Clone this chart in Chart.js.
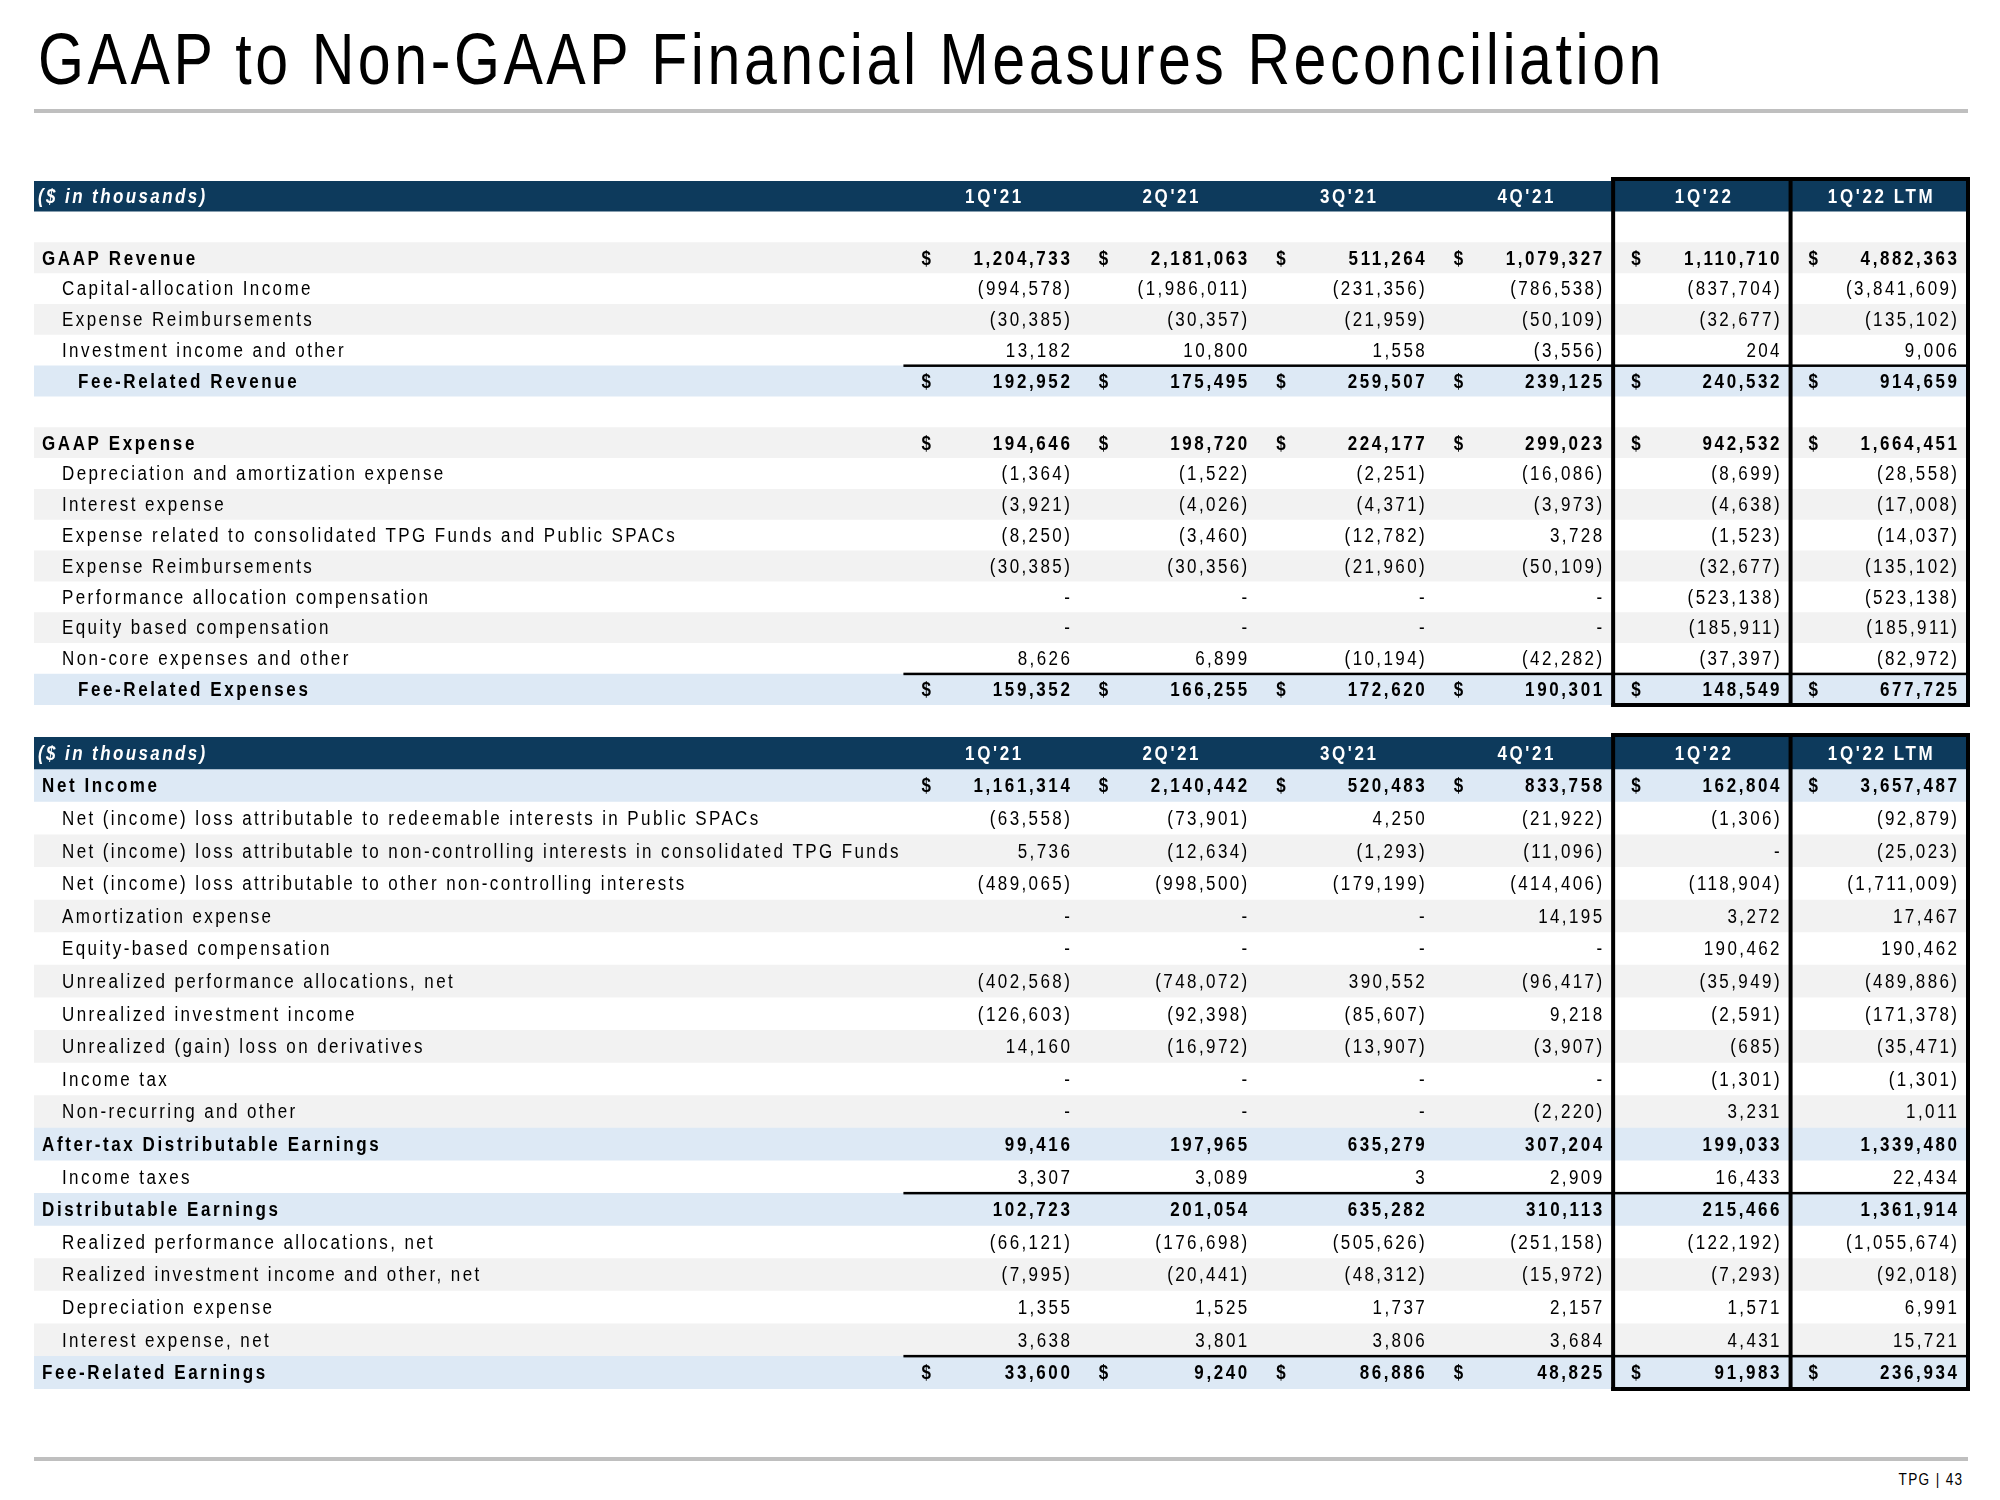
<!DOCTYPE html>
<html>
<head>
<meta charset="utf-8">
<script src="https://cdn.jsdelivr.net/npm/chart.js@4.4.1/dist/chart.umd.min.js"></script>
<style>
  body { margin: 0; background: #fff; width: 2000px; height: 1500px; position: relative; overflow: hidden; }
  #title { position: absolute; left: 38px; top: 23px; font-family: 'Liberation Sans', sans-serif; font-size: 72px; line-height: 72px; white-space: nowrap; color: #000; }
  #titleText { display: inline-block; transform: scaleX(0.82); transform-origin: 0 0; }
  .rule { position: absolute; left: 34px; width: 1934px; height: 4px; background: #bfbfbf; }
  #footer { position: absolute; right: 36px; top: 1470px; font-family: 'Liberation Sans', sans-serif; font-size: 16px; line-height: 20px; color: #000; }
  #footerText { display: inline-block; letter-spacing: 1.6px; transform: scaleX(0.85); transform-origin: 100% 0; }
  canvas { position: absolute; left: 0; }
</style>
</head>
<body>
<div id="title"><span id="titleText">GAAP to Non-GAAP Financial Measures Reconciliation</span></div>
<div class="rule" style="top:109px"></div>
<canvas id="feeTable" width="2000" height="545" style="top:170px"></canvas>
<canvas id="earnTable" width="2000" height="675" style="top:725px"></canvas>
<div class="rule" style="top:1457px"></div>
<div id="footer"><span id="footerText">TPG | 43</span></div>
<script>
// column headers
const periods = ["1Q'21", "2Q'21", "3Q'21", "4Q'21", "1Q'22", "1Q'22 LTM"];

// top table: revenue / expense ($ in thousands)
const gaapRevenue = [1204733, 2181063, 511264, 1079327, 1110710, 4882363];
const capitalAllocationIncome = [-994578, -1986011, -231356, -786538, -837704, -3841609];
const revExpenseReimbursements = [-30385, -30357, -21959, -50109, -32677, -135102];
const investmentIncomeOther = [13182, 10800, 1558, -3556, 204, 9006];
const feeRelatedRevenue = [192952, 175495, 259507, 239125, 240532, 914659];

const gaapExpense = [194646, 198720, 224177, 299023, 942532, 1664451];
const depreciationAmortization = [-1364, -1522, -2251, -16086, -8699, -28558];
const interestExpense = [-3921, -4026, -4371, -3973, -4638, -17008];
const consolidatedFundsExpense = [-8250, -3460, -12782, 3728, -1523, -14037];
const expExpenseReimbursements = [-30385, -30356, -21960, -50109, -32677, -135102];
const performanceAllocationComp = [0, 0, 0, 0, -523138, -523138];
const equityBasedComp = [0, 0, 0, 0, -185911, -185911];
const nonCoreExpenses = [8626, 6899, -10194, -42282, -37397, -82972];
const feeRelatedExpenses = [159352, 166255, 172620, 190301, 148549, 677725];

// bottom table: earnings ($ in thousands)
const netIncome = [1161314, 2140442, 520483, 833758, 162804, 3657487];
const nciPublicSpacs = [-63558, -73901, 4250, -21922, -1306, -92879];
const nciTpgFunds = [5736, -12634, -1293, -11096, 0, -25023];
const nciOther = [-489065, -998500, -179199, -414406, -118904, -1711009];
const amortizationExpense = [0, 0, 0, 14195, 3272, 17467];
const equityBasedCompensation = [0, 0, 0, 0, 190462, 190462];
const unrealizedPerformance = [-402568, -748072, 390552, -96417, -35949, -489886];
const unrealizedInvestment = [-126603, -92398, -85607, 9218, -2591, -171378];
const unrealizedDerivatives = [14160, -16972, -13907, -3907, -685, -35471];
const incomeTax = [0, 0, 0, 0, -1301, -1301];
const nonRecurringOther = [0, 0, 0, -2220, 3231, 1011];
const afterTaxDE = [99416, 197965, 635279, 307204, 199033, 1339480];
const incomeTaxes = [3307, 3089, 3, 2909, 16433, 22434];
const distributableEarnings = [102723, 201054, 635282, 310113, 215466, 1361914];
const realizedPerformance = [-66121, -176698, -505626, -251158, -122192, -1055674];
const realizedInvestment = [-7995, -20441, -48312, -15972, -7293, -92018];
const depreciationExpense = [1355, 1525, 1737, 2157, 1571, 6991];
const interestExpenseNet = [3638, 3801, 3806, 3684, 4431, 15721];
const feeRelatedEarnings = [33600, 9240, 86886, 48825, 91983, 236934];

const FONT = "'Liberation Sans', Arial, sans-serif";
const SQUEEZE = 0.85;   // fake Arial Narrow
const NAVY = '#0d3a5c', GRAY = '#f2f2f2', BLUE = '#dde9f5';
const X_MIN = -4.9, X_MAX = 6;

// kind: head | blank | main | item | sub
function row(kind, label, values, opts) {
  return Object.assign({ kind: kind, label: label, values: values }, opts || {});
}

const feeRows = [
  row('head', '($ in thousands)', null),
  row('blank', '', null),
  row('main', 'GAAP Revenue', gaapRevenue, { fill: GRAY, dollar: true }),
  row('item', 'Capital-allocation Income', capitalAllocationIncome),
  row('item', 'Expense Reimbursements', revExpenseReimbursements, { fill: GRAY }),
  row('item', 'Investment income and other', investmentIncomeOther),
  row('sub', 'Fee-Related Revenue', feeRelatedRevenue, { fill: BLUE, dollar: true, ruleAbove: true }),
  row('blank', '', null),
  row('main', 'GAAP Expense', gaapExpense, { fill: GRAY, dollar: true }),
  row('item', 'Depreciation and amortization expense', depreciationAmortization),
  row('item', 'Interest expense', interestExpense, { fill: GRAY }),
  row('item', 'Expense related to consolidated TPG Funds and Public SPACs', consolidatedFundsExpense),
  row('item', 'Expense Reimbursements', expExpenseReimbursements, { fill: GRAY }),
  row('item', 'Performance allocation compensation', performanceAllocationComp),
  row('item', 'Equity based compensation', equityBasedComp, { fill: GRAY }),
  row('item', 'Non-core expenses and other', nonCoreExpenses),
  row('sub', 'Fee-Related Expenses', feeRelatedExpenses, { fill: BLUE, dollar: true, ruleAbove: true })
];

const earnRows = [
  row('head', '($ in thousands)', null),
  row('main', 'Net Income', netIncome, { fill: BLUE, dollar: true }),
  row('item', 'Net (income) loss attributable to redeemable interests in Public SPACs', nciPublicSpacs),
  row('item', 'Net (income) loss attributable to non-controlling interests in consolidated TPG Funds', nciTpgFunds, { fill: GRAY }),
  row('item', 'Net (income) loss attributable to other non-controlling interests', nciOther),
  row('item', 'Amortization expense', amortizationExpense, { fill: GRAY }),
  row('item', 'Equity-based compensation', equityBasedCompensation),
  row('item', 'Unrealized performance allocations, net', unrealizedPerformance, { fill: GRAY }),
  row('item', 'Unrealized investment income', unrealizedInvestment),
  row('item', 'Unrealized (gain) loss on derivatives', unrealizedDerivatives, { fill: GRAY }),
  row('item', 'Income tax', incomeTax),
  row('item', 'Non-recurring and other', nonRecurringOther, { fill: GRAY }),
  row('main', 'After-tax Distributable Earnings', afterTaxDE, { fill: BLUE }),
  row('item', 'Income taxes', incomeTaxes),
  row('main', 'Distributable Earnings', distributableEarnings, { fill: BLUE, ruleAbove: true }),
  row('item', 'Realized performance allocations, net', realizedPerformance),
  row('item', 'Realized investment income and other, net', realizedInvestment, { fill: GRAY }),
  row('item', 'Depreciation expense', depreciationExpense),
  row('item', 'Interest expense, net', interestExpenseNet, { fill: GRAY }),
  row('main', 'Fee-Related Earnings', feeRelatedEarnings, { fill: BLUE, dollar: true, ruleAbove: true })
];

function fmt(v) {
  if (!v) return '-';
  const s = Math.abs(v).toLocaleString('en-US');
  return v < 0 ? '(' + s + ')' : s;
}

// condensed, letter-spaced text (the slide uses Arial Narrow with wide tracking)
function narrowText(ctx, text, x, y, align, spacing) {
  ctx.save();
  ctx.letterSpacing = '0px';
  const w = ctx.measureText(text).width * SQUEEZE + (text.length - 1) * spacing;
  let x0 = x;
  if (align === 'right') x0 = x - w;
  else if (align === 'center') x0 = x - w / 2;
  ctx.translate(x0, y);
  ctx.scale(SQUEEZE, 1);
  ctx.textAlign = 'left';
  ctx.letterSpacing = (spacing / SQUEEZE) + 'px';
  ctx.fillText(text, 0, 0);
  ctx.restore();
}

const tableText = {
  id: 'tableText',
  afterDatasetsDraw(chart) {
    const { ctx, chartArea, scales: { x, y } } = chart;
    const rows = chart.options.plugins.tableText.rows;
    const band = y.getPixelForValue(1) - y.getPixelForValue(0);
    ctx.save();
    ctx.textBaseline = 'middle';
    rows.forEach((r, i) => {
      const cy = y.getPixelForValue(i) + 1;
      if (r.ruleAbove) {
        ctx.fillStyle = '#000';
        ctx.fillRect(x.getPixelForValue(0), cy - 1 - band / 2 - 1.5, chartArea.right - x.getPixelForValue(0), 2.5);
      }
      if (r.kind === 'blank') return;
      if (r.kind === 'head') {
        ctx.fillStyle = '#fff';
        ctx.font = 'italic bold 20px ' + FONT;
        narrowText(ctx, r.label, chartArea.left + 4, cy, 'left', 2.4);
        ctx.font = 'bold 20px ' + FONT;
        periods.forEach((p, c) => narrowText(ctx, p, x.getPixelForValue(c + 0.5) + 1, cy, 'center', 2.6));
        return;
      }
      const bold = r.kind !== 'item';
      const sp = bold ? 2.6 : 2.4;
      ctx.fillStyle = '#000';
      ctx.font = (bold ? 'bold ' : '') + '20px ' + FONT;
      const indent = r.kind === 'item' ? 28 : (r.kind === 'sub' ? 44 : 8);
      narrowText(ctx, r.label, chartArea.left + indent, cy, 'left', sp);
      r.values.forEach((v, c) => {
        if (r.dollar) narrowText(ctx, '$', x.getPixelForValue(c) + 18, cy, 'left', sp);
        narrowText(ctx, fmt(v), x.getPixelForValue(c + 1) - 11, cy, 'right', sp);
      });
    });
    // box around the 1Q'22 and LTM columns
    ctx.fillStyle = '#000';
    const lw = 4, top = chartArea.top - 4, bottom = chartArea.bottom;
    [4, 5, 6].forEach(c => {
      ctx.fillRect(x.getPixelForValue(c) - lw / 2, top, lw, bottom - top + lw / 2);
    });
    ctx.fillRect(x.getPixelForValue(4) - lw / 2, top, x.getPixelForValue(6) - x.getPixelForValue(4) + lw, lw);
    ctx.fillRect(x.getPixelForValue(4) - lw / 2, bottom - lw / 2, x.getPixelForValue(6) - x.getPixelForValue(4) + lw, lw);
    ctx.restore();
  }
};

function buildTable(canvasId, rows, padTop, padBottom) {
  return new Chart(document.getElementById(canvasId), {
    type: 'bar',
    data: {
      labels: rows.map((r, i) => String(i)),
      datasets: [{
        data: rows.map(() => [X_MIN, X_MAX]),
        backgroundColor: rows.map(r => r.kind === 'head' ? NAVY : (r.fill || '#ffffff')),
        borderWidth: 0,
        barPercentage: 1,
        categoryPercentage: 1
      }]
    },
    options: {
      indexAxis: 'y',
      responsive: false,
      animation: false,
      devicePixelRatio: 1,
      layout: { padding: { left: 34, right: 32, top: padTop, bottom: padBottom } },
      scales: {
        x: { type: 'linear', min: X_MIN, max: X_MAX, display: false },
        y: { type: 'category', display: false, offset: true }
      },
      plugins: {
        legend: { display: false },
        tooltip: { enabled: false },
        tableText: { rows: rows }
      }
    },
    plugins: [tableText]
  });
}

buildTable('feeTable', feeRows, 11, 10);
buildTable('earnTable', earnRows, 12, 11);

// stretch the title tracking so it spans the same width as on the slide
const titleText = document.getElementById('titleText');
const natural = titleText.getBoundingClientRect().width / 0.82;
const n = titleText.textContent.length;
titleText.style.letterSpacing = ((1627 / 0.82 - natural) / n) + 'px';
</script>
</body>
</html>
